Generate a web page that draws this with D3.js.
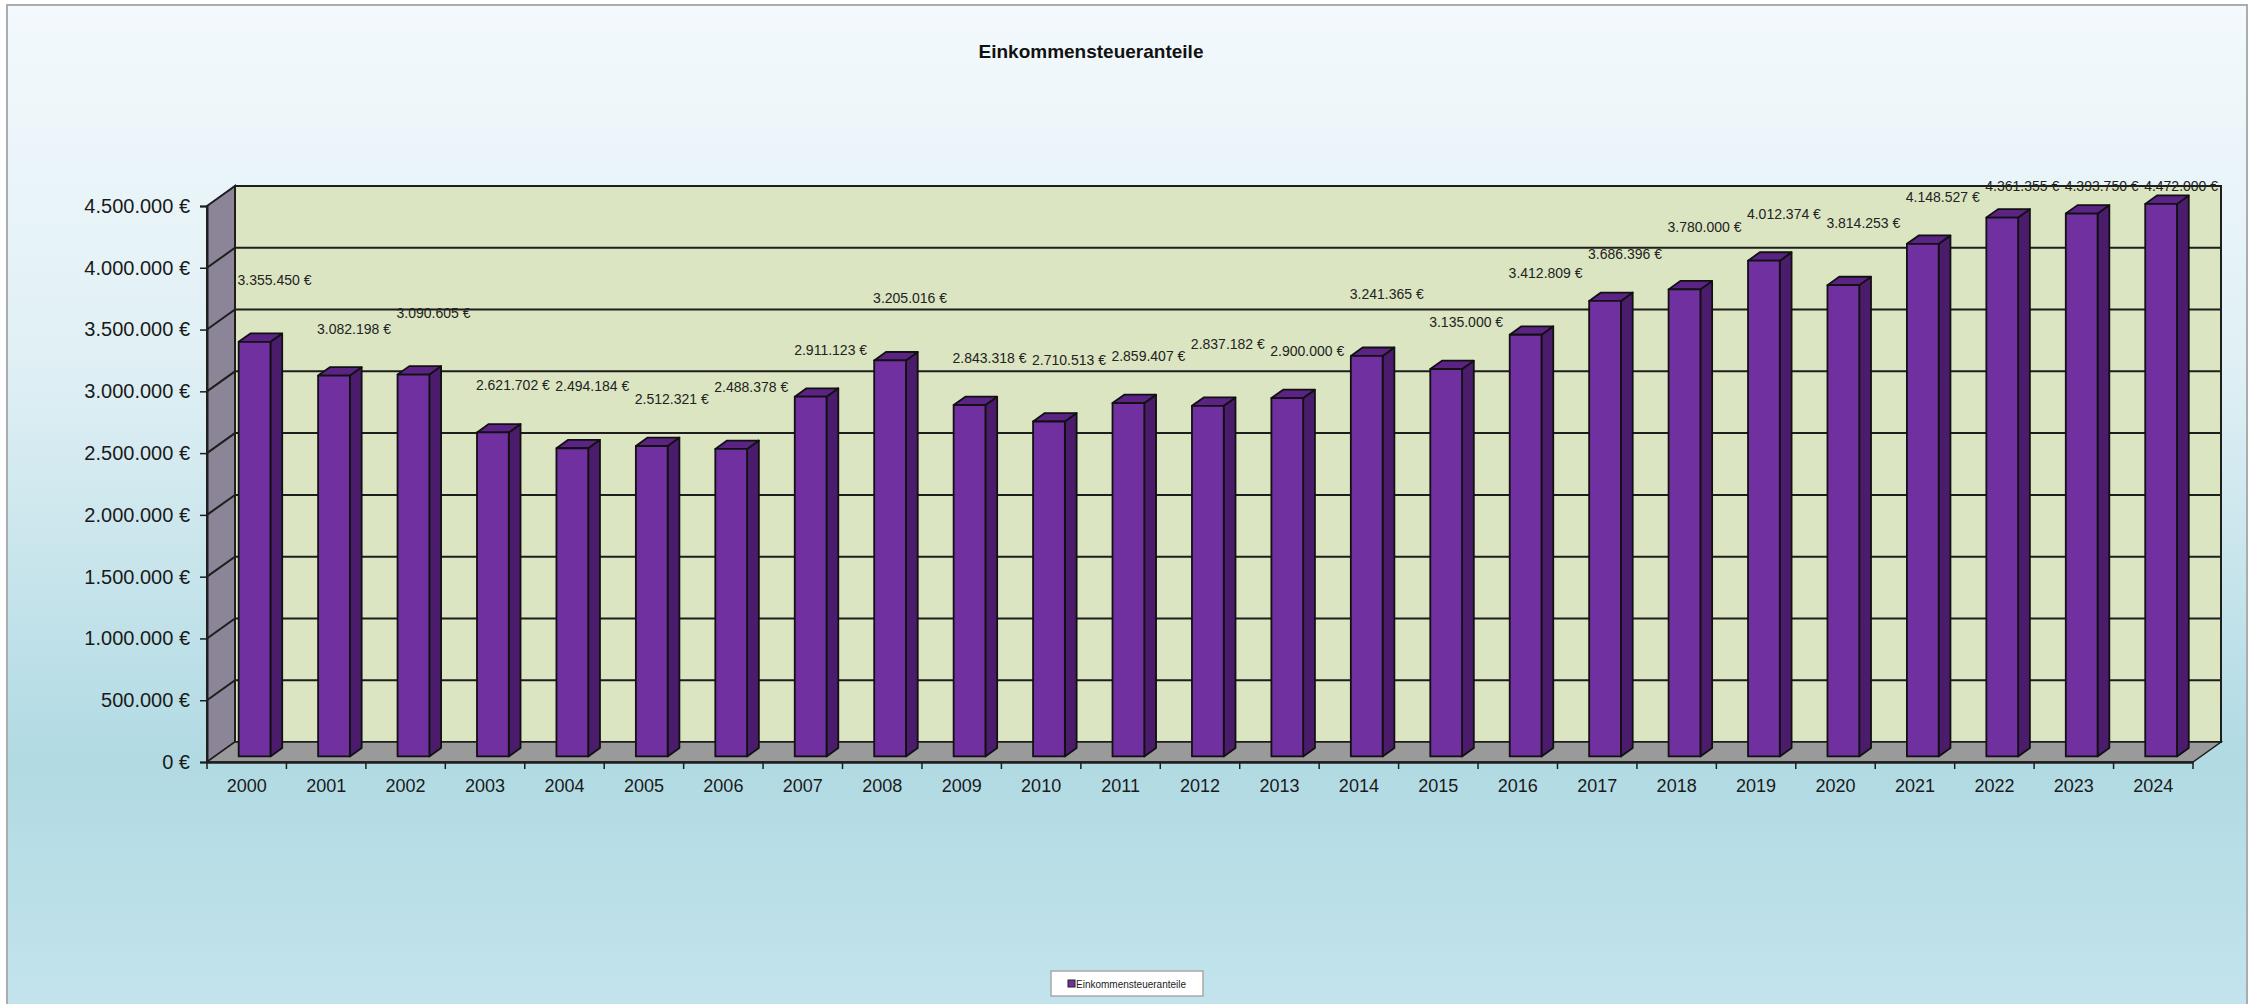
<!DOCTYPE html>
<html>
<head>
<meta charset="utf-8">
<script src="https://cdn.jsdelivr.net/npm/d3@7"></script>
<style>
  html, body { margin: 0; padding: 0; background: #fff; }
  svg { display: block; font-family: "Liberation Sans", Arial, sans-serif; }
</style>
</head>
<body>
<svg id="chart"></svg>
<script>
// Einkommensteueranteile 2000 - 2024
var years = ['2000', '2001', '2002', '2003', '2004', '2005', '2006', '2007', '2008', '2009',
             '2010', '2011', '2012', '2013', '2014', '2015', '2016', '2017', '2018', '2019',
             '2020', '2021', '2022', '2023', '2024'];
var values = [3355450, 3082198, 3090605, 2621702, 2494184, 2512321, 2488378, 2911123, 3205016, 2843318,
              2710513, 2859407, 2837182, 2900000, 3241365, 3135000, 3412809, 3686396, 3780000, 4012374,
              3814253, 4148527, 4361355, 4393750, 4472000];
var yTicks = [0, 500000, 1000000, 1500000, 2000000, 2500000, 3000000, 3500000, 4000000, 4500000];
var title = 'Einkommensteueranteile';
var seriesName = 'Einkommensteueranteile';

var width = 2255, height = 1004;
var plotLeft = 207, plotRight = 2193, base = 762, plotTop = 206;
var depthX = 28, depthY = -20;      // wall depth
var barOff = 0.28, barDepth = 0.42; // bar position inside the depth

var de = d3.formatLocale({decimal: ',', thousands: '.', grouping: [3], currency: ['', ' €']});
var euro = function (v) { return de.format(',.0f')(v) + ' €'; };

var svg = d3.select('#chart').attr('width', width).attr('height', height);

// background
var defs = svg.append('defs');
var grad = defs.append('linearGradient').attr('id', 'bg').attr('x1', 0).attr('y1', 0).attr('x2', 0).attr('y2', 1);
grad.append('stop').attr('offset', '0%').attr('stop-color', '#f3f9fc');
grad.append('stop').attr('offset', '35%').attr('stop-color', '#e0f0f5');
grad.append('stop').attr('offset', '75%').attr('stop-color', '#b1dae3');
grad.append('stop').attr('offset', '100%').attr('stop-color', '#c4e4ec');
svg.append('rect').attr('width', width).attr('height', height).attr('fill', '#fff');
svg.append('rect').attr('x', 7).attr('y', 5).attr('width', 2240).attr('height', 1010)
    .attr('fill', 'url(#bg)').attr('stroke', '#a9adb0').attr('stroke-width', 2);

// scales
var y = d3.scaleLinear().domain([0, 4500000]).range([base, plotTop]);
var x = d3.scaleBand().domain(years).range([plotLeft, plotRight]).paddingInner(0.6).paddingOuter(0.3);
var step = x.step();

var line = '#1e1e1e';

// walls
svg.append('polygon')
    .attr('points', [[plotLeft, y(4500000)], [plotLeft + depthX, y(4500000) + depthY], [plotLeft + depthX, base + depthY], [plotLeft, base]].join(' '))
    .attr('fill', '#8b8597').attr('stroke', line).attr('stroke-width', 2);
svg.append('rect')
    .attr('x', plotLeft + depthX).attr('y', y(4500000) + depthY)
    .attr('width', plotRight - plotLeft).attr('height', base - y(4500000))
    .attr('fill', '#dbe5c1').attr('stroke', line).attr('stroke-width', 2);
svg.append('polygon')
    .attr('points', [[plotLeft, base], [plotRight, base], [plotRight + depthX, base + depthY], [plotLeft + depthX, base + depthY]].join(' '))
    .attr('fill', '#9a9a9a').attr('stroke', line).attr('stroke-width', 1.5);

// gridlines on back and side wall
var grid = svg.append('g').attr('stroke', line).attr('stroke-width', 2).attr('fill', 'none');
grid.selectAll('path').data(yTicks.slice(1, -1)).enter().append('path')
    .attr('d', function (v) {
        return 'M' + plotLeft + ',' + y(v) + 'L' + (plotLeft + depthX) + ',' + (y(v) + depthY) +
               'L' + (plotRight + depthX) + ',' + (y(v) + depthY);
    });

// bars
var bw = x.bandwidth();
var ox = depthX * barOff, oy = depthY * barOff;
var bx = depthX * barDepth, by = depthY * barDepth;
var bars = svg.append('g').selectAll('g').data(values).enter().append('g')
    .attr('stroke', '#111').attr('stroke-width', 1.8).attr('stroke-linejoin', 'round');
bars.append('polygon')   // side
    .attr('points', function (v, i) {
        var x1 = x(years[i]) + ox + bw, yt = y(v) + oy, yb = base + oy;
        return [[x1, yt], [x1 + bx, yt + by], [x1 + bx, yb + by], [x1, yb]].join(' ');
    })
    .attr('fill', '#4a1c6b');
bars.append('polygon')   // top
    .attr('points', function (v, i) {
        var x0 = x(years[i]) + ox, yt = y(v) + oy;
        return [[x0, yt], [x0 + bw, yt], [x0 + bw + bx, yt + by], [x0 + bx, yt + by]].join(' ');
    })
    .attr('fill', '#5b2384');
bars.append('rect')      // front
    .attr('x', function (v, i) { return x(years[i]) + ox; })
    .attr('y', function (v) { return y(v) + oy; })
    .attr('width', bw)
    .attr('height', function (v) { return base - y(v); })
    .attr('fill', '#7030a0');

// value labels, staggered so neighbours do not collide
svg.append('g').selectAll('text').data(values).enter().append('text')
    .attr('x', function (v, i) { return x(years[i]) + bw / 2 + ox + 20; })
    .attr('y', function (v, i) {
        var lift = i % 2 === 0 ? 62 : 47;
        return Math.max(y(v) + oy - lift, 186) + 5;
    })
    .attr('text-anchor', 'middle')
    .attr('font-size', 14)
    .attr('fill', '#222')
    .text(euro);

// y axis
var yAxis = svg.append('g').attr('transform', 'translate(' + plotLeft + ',0)')
    .call(d3.axisLeft(y).tickValues(yTicks).tickFormat(euro).tickSize(7).tickPadding(10));
yAxis.select('.domain').attr('stroke', line).attr('stroke-width', 2);
yAxis.selectAll('.tick line').attr('stroke', line).attr('stroke-width', 1.5);
yAxis.selectAll('text').attr('font-size', 20).attr('fill', '#1a1a1a');

// x axis
var xAxis = svg.append('g').attr('transform', 'translate(0,' + base + ')')
    .call(d3.axisBottom(x).tickSize(0).tickPadding(14));
xAxis.select('.domain').attr('stroke', line).attr('stroke-width', 2.5);
xAxis.selectAll('text').attr('font-size', 18).attr('fill', '#1a1a1a').attr('dy', '0.9em');
xAxis.selectAll('.boundary').data(d3.range(years.length + 1)).enter().append('line')
    .attr('class', 'boundary')
    .attr('x1', function (i) { return plotLeft + i * step; })
    .attr('x2', function (i) { return plotLeft + i * step; })
    .attr('y1', 0).attr('y2', 7)
    .attr('stroke', line).attr('stroke-width', 1.5);

// title
svg.append('text').attr('x', 1091).attr('y', 58).attr('text-anchor', 'middle')
    .attr('font-size', 19).attr('font-weight', 'bold').attr('fill', '#111').text(title);

// legend
var lg = svg.append('g').attr('transform', 'translate(1051,971)');
lg.append('rect').attr('width', 152).attr('height', 25).attr('fill', '#fff')
    .attr('stroke', '#a8a8a8').attr('stroke-width', 1.5);
lg.append('rect').attr('x', 17).attr('y', 9).attr('width', 7).attr('height', 7)
    .attr('fill', '#7030a0').attr('stroke', '#222').attr('stroke-width', 1);
lg.append('text').attr('x', 25).attr('y', 16.5).attr('font-size', 10).attr('fill', '#222').text(seriesName);
</script>
</body>
</html>
